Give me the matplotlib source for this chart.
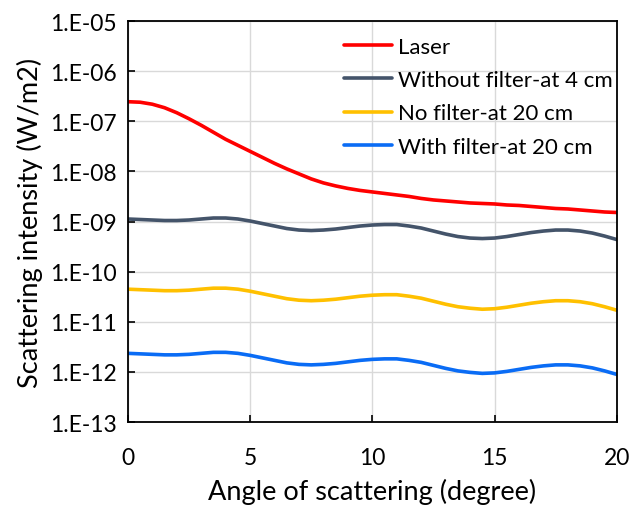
import numpy as np
import matplotlib
matplotlib.use("Agg")
import matplotlib.pyplot as plt
from matplotlib.ticker import FixedLocator, FuncFormatter

plt.rcParams['font.family'] = ['Lato', 'DejaVu Sans']

# scattering angle (degree), read every half degree
angle = [0, 0.5, 1, 1.5, 2, 2.5, 3, 3.5, 4, 4.5, 5, 5.5, 6, 6.5, 7, 7.5, 8, 8.5,
         9, 9.5, 10, 10.5, 11, 11.5, 12, 12.5, 13, 13.5, 14, 14.5, 15, 15.5, 16,
         16.5, 17, 17.5, 18, 18.5, 19, 19.5, 20]

# log10 of the intensity (W/m2)
laser_log = [-6.61, -6.62, -6.66, -6.73, -6.83, -6.95, -7.08, -7.22, -7.36, -7.48,
             -7.60, -7.72, -7.84, -7.95, -8.05, -8.15, -8.23, -8.29, -8.34, -8.38,
             -8.41, -8.44, -8.47, -8.50, -8.54, -8.57, -8.59, -8.61, -8.63, -8.64,
             -8.65, -8.67, -8.68, -8.70, -8.72, -8.74, -8.75, -8.77, -8.79, -8.81,
             -8.82]
without_4cm_log = [-8.95, -8.96, -8.97, -8.98, -8.98, -8.97, -8.95, -8.93, -8.93,
                   -8.95, -8.99, -9.04, -9.09, -9.14, -9.17, -9.18, -9.17, -9.15,
                   -9.12, -9.09, -9.07, -9.06, -9.06, -9.09, -9.13, -9.19, -9.25,
                   -9.30, -9.33, -9.34, -9.33, -9.30, -9.26, -9.22, -9.19, -9.17,
                   -9.17, -9.19, -9.23, -9.29, -9.36]
no_filter_20cm_log = [-10.35, -10.36, -10.37, -10.38, -10.38, -10.37, -10.35, -10.33,
                      -10.33, -10.35, -10.39, -10.44, -10.49, -10.54, -10.57, -10.58,
                      -10.57, -10.55, -10.52, -10.49, -10.47, -10.46, -10.46, -10.49,
                      -10.53, -10.59, -10.65, -10.70, -10.73, -10.75, -10.74, -10.71,
                      -10.67, -10.63, -10.60, -10.58, -10.58, -10.60, -10.64, -10.70,
                      -10.77]
with_filter_20cm_log = [-11.63, -11.64, -11.65, -11.66, -11.66, -11.65, -11.63, -11.61,
                        -11.61, -11.63, -11.67, -11.72, -11.77, -11.82, -11.85, -11.86,
                        -11.85, -11.83, -11.80, -11.77, -11.75, -11.74, -11.74, -11.77,
                        -11.81, -11.87, -11.93, -11.98, -12.01, -12.03, -12.02, -11.99,
                        -11.95, -11.91, -11.88, -11.86, -11.86, -11.88, -11.92, -11.98,
                        -12.05]

series = [
    ("Laser", laser_log, "#ff0000"),
    ("Without filter-at 4 cm", without_4cm_log, "#44546a"),
    ("No filter-at 20 cm", no_filter_20cm_log, "#ffc000"),
    ("With filter-at 20 cm", with_filter_20cm_log, "#0a6cf5"),
]

fig = plt.figure(figsize=(6.3, 5.06), dpi=100)
ax = fig.add_axes([0.203, 0.164, 0.776, 0.7925])

for name, vals, col in series:
    ax.plot(angle, 10.0 ** np.array(vals), color=col, lw=2.6, label=name,
            solid_capstyle='round', solid_joinstyle='round')

ax.set_yscale('log')
ax.set_xlim(0, 20)
ax.set_ylim(1e-13, 1e-5)
ax.set_xticks([0, 5, 10, 15, 20])
ax.yaxis.set_major_locator(FixedLocator([10.0 ** e for e in range(-13, -4)]))
ax.yaxis.set_minor_locator(FixedLocator([]))
ax.yaxis.set_major_formatter(FuncFormatter(lambda v, p: "1.E%03d" % round(np.log10(v))))

ax.grid(True, color="#d9d9d9", lw=1.0)
ax.set_axisbelow(True)
ax.tick_params(axis='both', direction='in', length=5, width=1.2, labelsize=16.5,
               colors='black')
ax.tick_params(axis='x', pad=18)
ax.tick_params(axis='y', pad=8)
for s in ax.spines.values():
    s.set_color('black')
    s.set_linewidth(1.3)

ax.set_xlabel("Angle of scattering (degree)", fontsize=19.5, labelpad=7)
ax.set_ylabel("Scattering intensity (W/m2)", fontsize=19.5, labelpad=5)

ax.legend(loc='upper left', bbox_to_anchor=(0.423, 0.983), frameon=False,
          fontsize=16, handlelength=2.2, handletextpad=0.25, labelspacing=0.6,
          borderaxespad=0.0)

fig.savefig("out.png", dpi=100)
